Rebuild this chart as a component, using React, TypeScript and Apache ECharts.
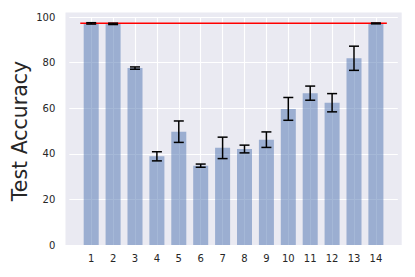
import React, { useEffect, useRef } from "react";
import * as echarts from "echarts";

const categories = [1, 2, 3, 4, 5, 6, 7, 8, 9, 10, 11, 12, 13, 14];
const accuracy = [97.2, 97.0, 77.6, 38.9, 49.7, 34.8, 42.6, 42.1, 46.2, 59.7, 66.6, 62.4, 81.9, 97.2];
const errors = [0.3, 0.3, 0.5, 2.0, 4.7, 0.7, 4.7, 1.7, 3.4, 5.0, 3.1, 4.0, 5.3, 0.2];
const referenceLevel = 97.3;
const referenceSpan = [0.5, 14.5];
const yTicks = [0, 20, 40, 60, 80, 100];

export default function App() {
  const ref = useRef<HTMLDivElement>(null);
  useEffect(() => {
    if (!ref.current) return;
    const chart = echarts.init(ref.current, undefined, { renderer: "svg" });
    const font = "DejaVu Sans";
    const gridLeft = 69.3;
    const gridRight = 415 - 397.8;
    const gridTop = 17;
    const gridBottom = 32;
    chart.setOption({
      animation: false,
      backgroundColor: "#ffffff",
      graphic: [
        {
          type: "rect",
          z: -10,
          silent: true,
          shape: { x: 65.5, y: 12.5, width: 336.2, height: 232.5 },
          style: { fill: "#eaeaf2" },
        },
        {
          type: "text",
          x: 20,
          y: 131,
          rotation: Math.PI / 2,
          style: {
            text: "Test Accuracy",
            font: `20.5px "${font}"`,
            fill: "#262626",
            align: "center",
            verticalAlign: "middle",
          },
        },
      ],
      grid: { left: gridLeft, right: gridRight, top: gridTop, bottom: gridBottom },
      xAxis: {
        type: "value",
        min: 0,
        max: 15,
        interval: 1,
        axisLine: { show: false },
        axisTick: { show: false },
        axisLabel: {
          fontFamily: font,
          fontSize: 10,
          color: "#262626",
          margin: 8,
          formatter: (v: number) => (categories.includes(v) ? String(v) : ""),
        },
        splitLine: {
          show: true,
          lineStyle: { color: "#ffffff", width: 1.1 },
          showMinLine: false,
          showMaxLine: false,
        },
      },
      yAxis: {
        type: "value",
        min: yTicks[0],
        max: yTicks[yTicks.length - 1],
        interval: 20,
        axisLine: { show: false },
        axisTick: { show: false },
        axisLabel: { fontFamily: font, fontSize: 10, color: "#262626", margin: 14 },
        splitLine: { show: true, lineStyle: { color: "#ffffff", width: 1.1 } },
      },
      series: [
        {
          type: "bar",
          data: categories.map((c, i) => [c, accuracy[i]]),
          barWidth: 15,
          itemStyle: { color: "rgba(76,114,176,0.5)" },
          z: 2,
        },
        {
          type: "line",
          data: referenceSpan.map((x) => [x, referenceLevel]),
          showSymbol: false,
          lineStyle: { color: "#ff0000", width: 1.5 },
          z: 3,
        },
        {
          type: "custom",
          z: 4,
          data: categories.map((c, i) => [c, accuracy[i] - errors[i], accuracy[i] + errors[i]]),
          renderItem: (params: any, api: any) => {
            const x = api.value(0);
            const lo = api.coord([x, api.value(1)]);
            const hi = api.coord([x, api.value(2)]);
            const hw = 5;
            const st = { stroke: "#000000", lineWidth: 1.5 };
            return {
              type: "group",
              children: [
                { type: "line", shape: { x1: lo[0], y1: lo[1], x2: hi[0], y2: hi[1] }, style: st },
                { type: "line", shape: { x1: lo[0] - hw, y1: lo[1], x2: lo[0] + hw, y2: lo[1] }, style: st },
                { type: "line", shape: { x1: hi[0] - hw, y1: hi[1], x2: hi[0] + hw, y2: hi[1] }, style: st },
              ],
            };
          },
        },
      ],
    });
    return () => chart.dispose();
  }, []);
  return <div ref={ref} style={{ width: 415, height: 277, margin: -8 }} />;
}
